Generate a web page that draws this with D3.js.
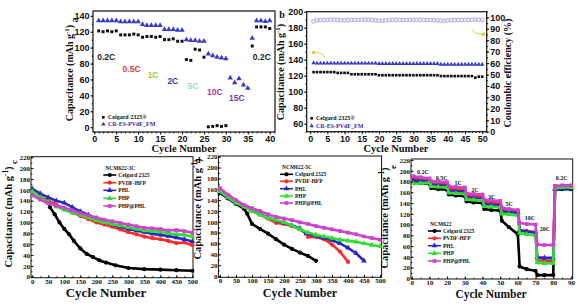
<!DOCTYPE html>
<html>
<head>
<meta charset="utf-8">
<script src="https://cdn.jsdelivr.net/npm/d3@7"></script>
<style>
body { margin: 0; background: #fff; }
svg { display: block; }
</style>
</head>
<body>
<script>
// ---------- data ----------
// panel a : rate capability, cycles 1-40
var aCycles = d3.range(1, 41);
var aCelgard = [121,120,121,120,121, 116,116,116,117,116, 113,114,114,113,114, 110,110,111,108,108,
                85,84,98,97,88, 0.5,1,2,1,2, null,null,null,null,null, 102,126,126,126,124];
var aCRES = [134,134,134,134,134, 132.5,132.5,132.5,132.5,132.5, 129,128,128,128,128, 123,123,123,122,122,
             110,109,109,108,108, 92,90,88,87,86, 62,56,61,53,49, 112,134,134,133,134];
var aRates = ["0.2C","0.5C","1C","2C","5C","10C","15C","0.2C"];
var aRateX = [2.7, 8.5, 13.4, 17.9, 22.5, 27.5, 32.5, 38.2];
var aRateY = [88, 73, 65.6, 58, 51.8, 44, 36.7, 88];
var aRateColors = ["#222","#e23a3a","#9acd32","#3540c8","#8fdede","#a43aa8","#7a3aa8","#222"];

// panel b : cycling at 0.2C, cycles 1-50
var bCycles = d3.range(1, 51);
var bCelgard = [124.5,124.5,124.5,124.5,124.5,124.5,124.5, 123.5,123.5,123.5,123.5,
                121.8,121.8,121.8,121.8,121.8,121.8,121.8,121.8,
                120.6,120.6,120.6,120.6,120.6,120.6,120.6,120.6,120.6,120.6,120.6,120.6,120.6,120.6,120.6,120.6,120.6,120.6,
                119.5,119.5,119.5,119.5,119.5,119.5,119.5,119.5,119.5,119.5, 117.5,118.8,118.8];
var bCRES = [136, 135.5,135.5,135.5,135.5,135.5,135.5,135.5,135.5,135.5,135.5,135.5,135.5,135.5,135.5,135.5,135.5,135.5,135.5,
             135,135,135,135,135,135,135,135,135,135,135,135,135,135,135,135,135,135,
             134,134,134,134,134,134,134,134,134,134,134,134,134];
var bCE = [96.5,97.5,97.8,97.6,97.8,97.9,98,97.8,97.4,97.5,97.6,97.8,97.9,97.9,98,97.9,97.8,97.7,97.5,97.3,
           97.2,97.4,97.6,97.8,97.9,97.9,97.8,97.7,97.8,97.9,97.9,97.8,97.8,97.7,97.6,97.6,97.5,97.2,97.1,97.4,
           97.6,97.7,97.7,97.7,97.8,97.8,98,98.2,97.9,97.7];

// series shared by c, d, e
var seriesNames = ["Celgard 2325","PVDF-HFP","PHL","PHP","PHP@PHL"];
var seriesColors = ["#000000","#ff2a2a","#2a2ac0","#33dd33","#cc44cc"];
var seriesSymbols = [d3.symbolCircle, d3.symbolCircle, d3.symbolTriangle, d3.symbolTriangle, d3.symbolSquare];

// panel c : NCM622-3C
var cCycles = d3.range(0, 501, 25);
var cCelgardX = [55,70,85,100,115,130,150,170,190,210,230,260,300,350,400,450,500];
var cCelgard = [128,115,100,88,78,66,52,42,36,30,26,21,16,14,13,12,11];
var cPVDF = [156,147,140,133,125,118,112,106,100,96,92,87,82,78,74,71,69,66,62,63,58];
var cPHL = [162,153,146,140,136,128,120,114,107,101,96,92,88,85,82,79,77,75,72,69,65];
var cPHP = [157,146,137,129,123,118,114,109,104,100,97,94,91,88,85,84,83,80,78,77,74];
var cPHPPHL = [150,142,135,131,127,122,117,113,109,105,102,99,96,93,90,89,88,85,86,84,81];

// panel d : NCM622-5C
var dCelgardX = [0,25,50,75,85,100,125,150,175,200,225,250,275,300];
var dCelgard = [153,143,133,124,115,96,87,78,68,58,50,43,37,28];
var dPVDFX = [0,25,50,75,100,125,150,175,200,225,250,270,275,300,325,350,375,400];
var dPVDF = [158,145,135,128,120,113,106,98,96,92,86,78,72,72,68,58,45,26];
var dPHLX = [0,25,50,75,100,125,150,175,200,225,250,270,300,325,350,375,400,425,450];
var dPHL = [155,144,135,128,121,114,108,102,98,93,88,78,74,70,66,60,52,42,28];
var dCycles = d3.range(0, 501, 25);
var dPHP = [156,145,135,128,120,113,107,103,99,93,86,80,76,73,70,67,65,63,60,57,55];
var dPHPPHL = [162,150,140,131,125,120,114,109,106,103,99,96,92,89,86,83,80,77,73,70,67];

// panel e : NCM622 rate test
var eCycles = [1,5,10, 11,15,20, 21,25,30, 31,35,40, 41,45,50, 51,55,60, 61,65,70, 71,75,80, 81,85,90];
var eCelgard = [178,177,176, 168,166,165, 156,154,153, 143,141,140, 129,127,126, 107,95,82, 22,17,14, 6,6,6, 165,166,166];
var ePVDF = [186,185,184, 177,176,175, 167,166,165, 154,153,152, 142,141,140, 128,127,125, 90,88,86, 33,33,32, 170,171,171];
var ePHL = [182,181,180, 174,173,172, 163,162,161, 150,149,148, 138,137,136, 124,123,122, 89,87,85, 39,38,38, 166,167,167];
var ePHP = [176,177,178, 171,170,169, 159,158,157, 147,146,145, 134,133,132, 120,119,117, 84,82,80, 29,28,28, 168,169,169];
var ePHPPHL = [190,188,186, 181,180,179, 171,170,169, 158,157,156, 146,145,144, 131,129,127, 103,101,100, 63,62,62, 172,173,173];
var eRates = ["0.2C","0.5C","1C","2C","3C","5C","10C","20C","0.2C"];
var eRateX = [6.4, 17, 26.3, 35.8, 45.2, 55.1, 66.8, 75.3, 84.7];
var eRateY = [198, 187, 176.7, 164, 151.8, 138, 112.7, 91, 187];

// ---------- drawing ----------
var SERIF = "'Liberation Serif','Times New Roman',serif";
var SANS = "'Liberation Sans',Arial,sans-serif";
var mySVG = d3.select("body").append("svg").attr("width", 587).attr("height", 304);

// len > 0 : ticks outside, len < 0 : ticks inside the frame
function drawAxis(g, axisFn, scale, major, minor, len, tr, font, fsize) {
  var mg = g.append("g").attr("transform", tr)
    .call(axisFn(scale).tickValues(minor).tickSize(len * 0.55).tickFormat(""));
  mg.select(".domain").remove();
  var ax = axisFn(scale).tickValues(major).tickSize(len).tickPadding(len > 0 ? 1 : 1);
  var mj = g.append("g").attr("transform", tr).call(ax);
  mj.select(".domain").remove();
  mj.selectAll("text").style("font-family", font).style("font-size", fsize + "px")
    .style("font-weight", "bold").attr("fill", "#111");
  g.selectAll(".tick line").attr("stroke", "#111");
}

function makePanel(p) {
  var g = mySVG.append("g");
  var xScale = d3.scaleLinear().domain(p.xd).range([p.l, p.r]);
  var yScale = d3.scaleLinear().domain(p.yd).range([p.b, p.t]);
  drawAxis(g, d3.axisBottom, xScale, p.xMajor, p.xMinor, p.tick, "translate(0," + p.b + ")", p.font, p.fs);
  drawAxis(g, d3.axisLeft, yScale, p.yMajor, p.yMinor, p.tick, "translate(" + p.l + ",0)", p.font, p.fs);
  g.append("rect").attr("x", p.l).attr("y", p.t).attr("width", p.r - p.l).attr("height", p.b - p.t)
    .attr("fill", "none").attr("stroke", "#111").attr("stroke-width", p.sw || 1.2);
  return {g: g, x: xScale, y: yScale, p: p};
}

function capTitle(g, x, y, size) {
  var t = g.append("text").attr("transform", "translate(" + x + "," + y + ") rotate(-90)")
    .attr("text-anchor", "middle").style("font-family", SERIF).style("font-weight", "bold")
    .style("font-size", size + "px").attr("fill", "#111");
  t.append("tspan").text("Capacitance (mAh g");
  t.append("tspan").attr("dy", -size * 0.4).style("font-size", (size * 0.7) + "px").text("-1");
  t.append("tspan").attr("dy", size * 0.4).text(")");
}

function plainText(g, x, y, txt, size, opts) {
  opts = opts || {};
  var t = g.append("text").attr("x", x).attr("y", y).text(txt)
    .attr("text-anchor", opts.anchor || "middle")
    .attr("dominant-baseline", opts.baseline || "auto")
    .style("font-family", opts.font || SERIF).style("font-weight", "bold")
    .style("font-size", size + "px").attr("fill", opts.color || "#111");
  if (opts.rotate) t.attr("transform", "rotate(-90," + x + "," + y + ")");
  return t;
}

function scatter(pn, xs, ys, sym, size, fill, stroke) {
  var pts = xs.map(function(x, i) { return [x, ys[i]]; }).filter(function(d) { return d[1] != null; });
  pn.g.selectAll(null).data(pts).enter().append("path")
    .attr("transform", function(d) { return "translate(" + pn.x(d[0]) + "," + pn.y(d[1]) + ")"; })
    .attr("d", d3.symbol().type(sym).size(size))
    .attr("fill", fill).attr("stroke", stroke || "none").attr("stroke-width", 0.8);
}

function lineSeries(pn, xs, ys, k) {
  var pts = xs.map(function(x, i) { return [x, ys[i]]; });
  var line = d3.line().x(function(d) { return pn.x(d[0]); }).y(function(d) { return pn.y(d[1]); });
  pn.g.append("path").attr("d", line(pts)).attr("fill", "none")
    .attr("stroke", seriesColors[k]).attr("stroke-width", 2.6);
  scatter(pn, xs, ys, seriesSymbols[k], 14, seriesColors[k]);
}

function lineLegend(pn, x, rowsY, titleTxt, titleY) {
  plainText(pn.g, x + 2, titleY, titleTxt, 5.5, {anchor: "start", baseline: "central"});
  seriesNames.forEach(function(name, k) {
    var y = rowsY[k];
    pn.g.append("line").attr("x1", x).attr("x2", x + 13).attr("y1", y).attr("y2", y)
      .attr("stroke", seriesColors[k]).attr("stroke-width", 1.6);
    pn.g.append("path").attr("transform", "translate(" + (x + 6.5) + "," + y + ")")
      .attr("d", d3.symbol().type(seriesSymbols[k]).size(14)).attr("fill", seriesColors[k]);
    plainText(pn.g, x + 15, y, name, 5.5, {anchor: "start", baseline: "central"});
  });
}

// ----- panel a -----
var pa = makePanel({l: 93, r: 275, t: 11, b: 132, xd: [-0.3, 41.2], yd: [-6, 146],
  xMajor: d3.range(0, 41, 5), xMinor: d3.range(0, 42, 1),
  yMajor: d3.range(0, 141, 20), yMinor: d3.range(0, 146, 10), font: SANS, fs: 9, tick: 2.5});
scatter(pa, aCycles, aCelgard, d3.symbolSquare, 9, "#111");
scatter(pa, aCycles, aCRES, d3.symbolTriangle, 13, "#3a3ac8");
aRates.forEach(function(r, i) {
  plainText(pa.g, pa.x(aRateX[i]), pa.y(aRateY[i]), r, 8.5, {font: SANS, color: aRateColors[i], baseline: "central"});
});
pa.g.append("path").attr("transform", "translate(103.3,117.3)").attr("d", d3.symbol().type(d3.symbolSquare).size(7)).attr("fill", "#111");
plainText(pa.g, 108, 117.3, "Celgard 2325\u00ae", 6, {anchor: "start", baseline: "central"});
pa.g.append("path").attr("transform", "translate(103.3,124.3)").attr("d", d3.symbol().type(d3.symbolTriangle).size(9)).attr("fill", "#3a3ac8");
plainText(pa.g, 108, 124.3, "CR-ES-PVdF_FM", 6, {anchor: "start", baseline: "central", color: "#3030b0"});
capTitle(pa.g, 73, 73, 10);
plainText(pa.g, 184, 151.5, "Cycle Number", 10.5);
plainText(pa.g, 74, 20, "a", 10, {rotate: true, baseline: "central"});

// ----- panel b -----
var pb = makePanel({l: 306.7, r: 486.7, t: 11.7, b: 131.7, xd: [-1, 51.3], yd: [50, 200],
  xMajor: d3.range(0, 51, 5), xMinor: d3.range(0, 52, 1),
  yMajor: d3.range(60, 201, 20), yMinor: d3.range(50, 201, 10), font: SANS, fs: 9, tick: 2.5});
var yRight = d3.scaleLinear().domain([0, 105]).range([131.7, 11.7]);
drawAxis(pb.g, d3.axisRight, yRight, d3.range(0, 101, 10), d3.range(0, 106, 5), 2.5, "translate(486.7,0)", SANS, 9);
scatter(pb, bCycles, bCelgard, d3.symbolSquare, 7, "#111");
scatter(pb, bCycles, bCRES, d3.symbolTriangle, 9, "#3a3ac8");
pb.g.selectAll(null).data(bCycles).enter().append("circle")
  .attr("cx", function(d) { return pb.x(d); })
  .attr("cy", function(d, i) { return yRight(bCE[i]); })
  .attr("r", 1.9).attr("fill", "#f4f4ff").attr("stroke", "#9a96e0").attr("stroke-width", 0.8);
// yellow arrows
function arrow(x0, y0, x1, y1, cx, cy) {
  var path = d3.path();
  path.moveTo(x0, y0);
  path.quadraticCurveTo(cx, cy, x1, y1);
  pb.g.append("path").attr("d", path.toString()).attr("fill", "none").attr("stroke", "#e6c23a").attr("stroke-width", 0.9);
  pb.g.append("circle").attr("cx", x1).attr("cy", y1).attr("r", 1.8).attr("fill", "#e6c23a");
}
arrow(pb.x(4.4), pb.y(142), pb.x(1), pb.y(149), pb.x(3.8), pb.y(149.5));
arrow(pb.x(47), yRight(89.5), pb.x(50.4), yRight(85.3), pb.x(47.8), yRight(85));
pb.g.append("path").attr("transform", "translate(311.7,118.3)").attr("d", d3.symbol().type(d3.symbolSquare).size(7)).attr("fill", "#111");
plainText(pb.g, 316, 118.3, "Celgard 2325\u00ae", 6, {anchor: "start", baseline: "central"});
pb.g.append("path").attr("transform", "translate(311.7,126)").attr("d", d3.symbol().type(d3.symbolTriangle).size(9)).attr("fill", "#3a3ac8");
plainText(pb.g, 316, 126, "CR-ES-PVdF_FM", 6, {anchor: "start", baseline: "central", color: "#3030b0"});
capTitle(pb.g, 284, 72, 10);
plainText(pb.g, 396, 151.5, "Cycle Number", 10.5);
plainText(pb.g, 507, 73, "Coulombic efficiency (%)", 10, {rotate: true, baseline: "central"});
plainText(pb.g, 282, 18, "b", 10);

// ----- panel c -----
var pc = makePanel({l: 31, r: 193, t: 156.7, b: 277.7, xd: [-4, 502], yd: [-1.8, 221],
  xMajor: d3.range(0, 501, 50), xMinor: d3.range(0, 501, 25),
  yMajor: d3.range(0, 221, 20), yMinor: d3.range(0, 221, 10), font: SERIF, fs: 7, sw: 1, tick: -2.5});
lineSeries(pc, cCelgardX, cCelgard, 0);
lineSeries(pc, cCycles, cPVDF, 1);
lineSeries(pc, cCycles, cPHL, 2);
lineSeries(pc, cCycles, cPHP, 3);
lineSeries(pc, cCycles, cPHPPHL, 4);
lineLegend(pc, 103.3, [175, 182.7, 190.3, 198.3, 206], "NCM622-3C", 167.7);
capTitle(pc.g, 12, 217, 10.5);
plainText(pc.g, 106, 297, "Cycle Number", 13);
plainText(pc.g, 14, 162, "c", 9, {rotate: true, baseline: "central"});

// ----- panel d -----
var pd = makePanel({l: 218.4, r: 381.6, t: 156, b: 277.3, xd: [-5, 505], yd: [-2.4, 221.3],
  xMajor: d3.range(0, 501, 50), xMinor: d3.range(0, 501, 25),
  yMajor: d3.range(0, 221, 20), yMinor: d3.range(0, 221, 10), font: SERIF, fs: 7, sw: 1, tick: -2.5});
lineSeries(pd, dCelgardX, dCelgard, 0);
lineSeries(pd, dPVDFX, dPVDF, 1);
lineSeries(pd, dPHLX, dPHL, 2);
lineSeries(pd, dCycles, dPHP, 3);
lineSeries(pd, dCycles, dPHPPHL, 4);
lineLegend(pd, 280, [174.3, 181.3, 188.7, 196, 203], "NCM622-5C", 166.7);
capTitle(pd.g, 201, 209, 10.5);
plainText(pd.g, 300, 297, "Cycle Number", 12);
plainText(pd.g, 198, 163, "d", 9);

// ----- panel e -----
var pe = makePanel({l: 411, r: 572.7, t: 159, b: 279, xd: [-0.4, 91], yd: [-1.3, 222],
  xMajor: d3.range(0, 91, 10), xMinor: d3.range(0, 91, 5),
  yMajor: d3.range(0, 221, 20), yMinor: d3.range(0, 221, 10), font: SERIF, fs: 7, sw: 1, tick: -2.5});
lineSeries(pe, eCycles, eCelgard, 0);
lineSeries(pe, eCycles, ePVDF, 1);
lineSeries(pe, eCycles, ePHL, 2);
lineSeries(pe, eCycles, ePHP, 3);
lineSeries(pe, eCycles, ePHPPHL, 4);
eRates.forEach(function(r, i) {
  plainText(pe.g, pe.x(eRateX[i]), pe.y(eRateY[i]), r, 6, {baseline: "central"});
});
lineLegend(pe, 428, [231, 238.3, 245.7, 253.3, 261], "NCM622", 224);
capTitle(pe.g, 388, 218, 10.5);
plainText(pe.g, 491, 297.5, "Cycle Number", 11.5);
plainText(pe.g, 393, 167, "e", 9, {rotate: true, baseline: "central"});
</script>
</body>
</html>
